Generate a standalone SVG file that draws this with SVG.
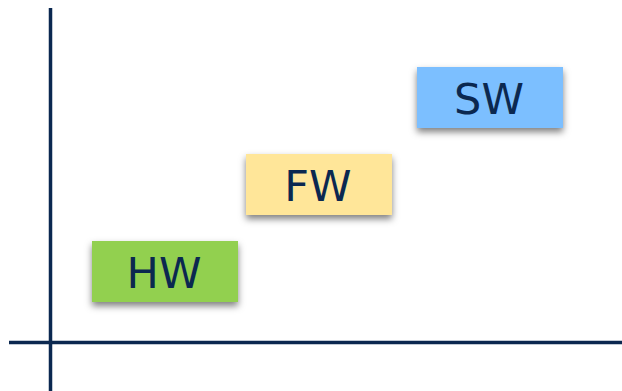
<svg xmlns="http://www.w3.org/2000/svg" width="622" height="391" viewBox="0 0 622 391">
<style>
.box{filter:url(#sh);}
.lbl{font-family:"DejaVu Sans",sans-serif;font-size:43px;fill:#0b2850;text-anchor:middle;}
.axis{stroke:#0b2850;stroke-width:3.5;}
</style>
<defs>
<filter id="sh" x="-20%" y="-30%" width="140%" height="170%">
<feDropShadow dx="0" dy="4" stdDeviation="3.5" flood-color="#000" flood-opacity="0.5"/>
</filter>
</defs>
<rect width="622" height="391" fill="#fff"/>
<g id="axes">
<line class="axis" x1="50.5" y1="8" x2="50.5" y2="391"/>
<line class="axis" x1="9" y1="342.5" x2="622" y2="342.5"/>
</g>
<g id="sw">
<rect class="box" x="417" y="67" width="146" height="61" fill="#7bbfff"/>
<text class="lbl" x="489" y="113.5">SW</text>
</g>
<g id="fw">
<rect class="box" x="246" y="154" width="146" height="61" fill="#ffe699"/>
<text class="lbl" x="318" y="200.5">FW</text>
</g>
<g id="hw">
<rect class="box" x="92" y="241" width="146" height="61" fill="#92d050"/>
<text class="lbl" x="164" y="287.5">HW</text>
</g>
</svg>
